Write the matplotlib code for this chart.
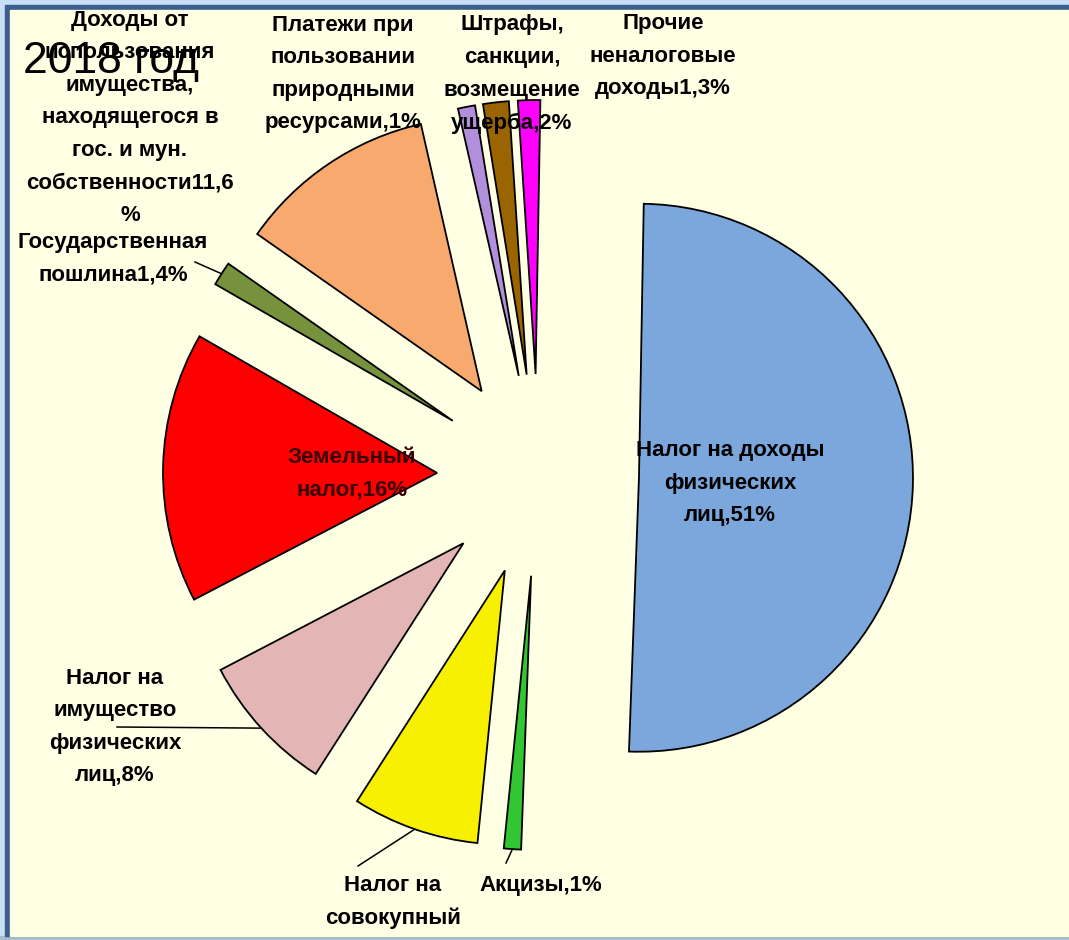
import numpy as np
import matplotlib
matplotlib.use("Agg")
from matplotlib import pyplot as plt
from matplotlib.patches import Rectangle

plt.rcParams['font.family'] = ['Liberation Sans', 'DejaVu Sans']

# slices, clockwise from the top
labels = ['Налог на доходы\nфизических\nлиц,51%',
          'Акцизы,1%',
          'Налог на\nсовокупный',
          'Налог на\nимущество\nфизических\nлиц,8%',
          'Земельный\nналог,16%',
          'Государственная\nпошлина1,4%',
          'Доходы от\nиспользования\nимущества,\nнаходящегося в\nгос. и мун.\nсобственности11,6\n%',
          'Платежи при\nпользовании\nприродными\nресурсами,1%',
          'Штрафы,\nсанкции,\nвозмещение\nущерба,2%',
          'Прочие\nненалоговые\nдоходы1,3%']
values = [49.8, 1.0, 7.4, 8.2, 15.8, 1.4, 11.6, 1.0, 1.5, 1.3]
colors = ['#7ba7dc', '#33c633', '#f7f000', '#e3b5b5', '#ff0000',
          '#76923c', '#f8a96e', '#b28fdc', '#9a6400', '#ff00ff']

W, H = 1069, 940

# label centres in picture pixels (x, y from top)
label_pos = [(730, 483), (541, 885), (393, 902), (115, 727), (352, 474),
             (113, 259), (130, 118), (343, 74), (512, 74), (663, 56)]
# leader line ends (x, y from top), None = no leader
leader_end = [None, (506, 863), (358, 866), (117, 727), None,
              (195, 262), None, None, None, None]


def main():
    fig = plt.figure(figsize=(W / 100, H / 100), dpi=100)
    fig.patch.set_facecolor('#c8e0f6')
    ax = fig.add_axes([0, 0, 1, 1])

    # frame and cream panel
    ax.add_patch(Rectangle((0, 0), W, 4, color='#a7bccd', zorder=0))
    ax.add_patch(Rectangle((5, 4), W, H - 9, color='#3b5e8c', zorder=0))
    ax.add_patch(Rectangle((10, 4), W, H - 14, color='#ffffe4', zorder=0))

    r = 274
    wedges, _ = ax.pie(values, colors=colors, radius=r, center=(538, H - 475),
                       explode=[101] * len(values), startangle=89,
                       counterclock=False,
                       wedgeprops=dict(edgecolor='black', linewidth=1.3, zorder=2))

    for i, (w, txt) in enumerate(zip(wedges, labels)):
        x, y = label_pos[i]
        col = '#3a0000' if i == 4 else 'black'
        ax.text(x, H - y, txt, ha='center', va='center', fontsize=16,
                fontweight='bold', color=col, linespacing=1.72, zorder=4)
        if leader_end[i] is not None:
            mid = np.deg2rad((w.theta1 + w.theta2) / 2)
            px = w.center[0] + w.r * np.cos(mid)
            py = w.center[1] + w.r * np.sin(mid)
            ex, ey = leader_end[i]
            ax.plot([px, ex], [py, H - ey], color='black', lw=1.1, zorder=3)

    ax.text(23, H - 73, '2018 год', ha='left', va='baseline', fontsize=32,
            color='black', zorder=5)

    ax.set_xlim(0, W)
    ax.set_ylim(0, H)
    ax.set_aspect('auto')
    ax.axis('off')
    fig.savefig('out.png', dpi=100, facecolor=fig.get_facecolor())


if __name__ == "__main__":
    main()
